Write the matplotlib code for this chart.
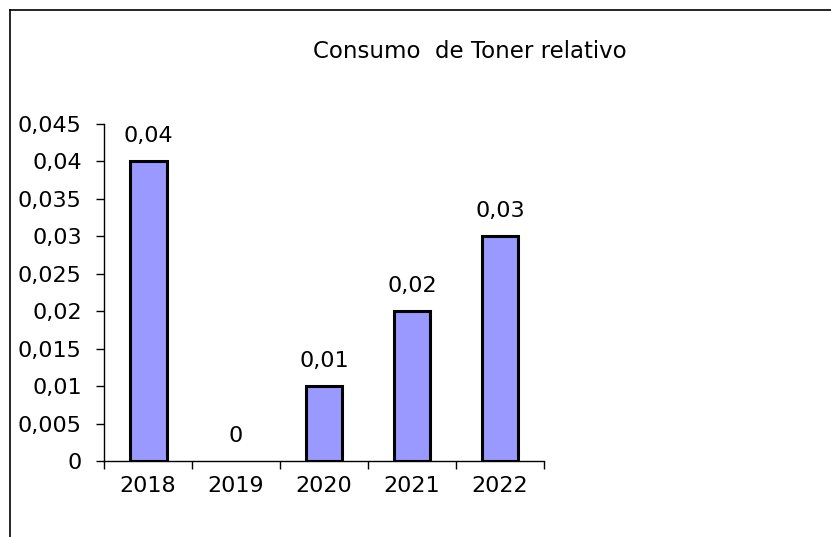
import matplotlib.pyplot as plt
from matplotlib.lines import Line2D
from matplotlib.ticker import FuncFormatter, FixedLocator

plt.rcParams['font.family'] = ['DejaVu Sans']

# datos
anos = ['2018', '2019', '2020', '2021', '2022']
consumo = [0.04, 0.0, 0.01, 0.02, 0.03]
yticks = [0, 0.005, 0.01, 0.015, 0.02, 0.025, 0.03, 0.035, 0.04, 0.045]
titulo = 'Consumo  de Toner relativo'

fig = plt.figure(figsize=(8.31, 5.37), dpi=100)
ax = fig.add_axes([0.1252, 0.1415, 0.5294, 0.6276])

def coma(v, pos=None):
    return f'{v:g}'.replace('.', ',')

x = list(range(len(anos)))
bordes = [2.2 if v > 0 else 0 for v in consumo]
barras = ax.bar(x, consumo, width=0.42, color='#9999FF', edgecolor='black', linewidth=bordes)

for xi, v in zip(x, consumo):
    ax.annotate(coma(v), (xi, v), xytext=(0, 11), textcoords='offset points',
                ha='center', va='bottom', fontsize=16)

ax.set_xlim(-0.5, len(anos) - 0.5)
ax.set_ylim(0, 0.045)
ax.yaxis.set_major_locator(FixedLocator(yticks))
ax.yaxis.set_major_formatter(FuncFormatter(coma))

# marcas entre categorias, etiquetas en el centro
ax.xaxis.set_major_locator(FixedLocator([i - 0.5 for i in range(len(anos) + 1)]))
ax.xaxis.set_major_formatter(FuncFormatter(lambda v, p: ''))
ax.set_xticks(x, minor=True)
ax.set_xticklabels(anos, minor=True)
ax.tick_params(axis='x', which='major', direction='out', length=6, width=1)
ax.tick_params(axis='x', which='minor', length=0, pad=11, labelsize=16)
ax.tick_params(axis='y', direction='out', length=6, width=1, pad=10, labelsize=16)

for s in ['top', 'right']:
    ax.spines[s].set_visible(False)
for s in ['left', 'bottom']:
    ax.spines[s].set_linewidth(1)

fig.text(470 / 831, 1 - 52 / 537, titulo, ha='center', va='center', fontsize=16.5)

# borde del grafico
W, H = 831, 537
fig.add_artist(Line2D([10 / W, 1], [1 - 10 / H, 1 - 10 / H], color='black', lw=1.2))
fig.add_artist(Line2D([10 / W, 10 / W], [0, 1 - 10 / H], color='black', lw=1.2))

fig.savefig('out.png', dpi=100)
